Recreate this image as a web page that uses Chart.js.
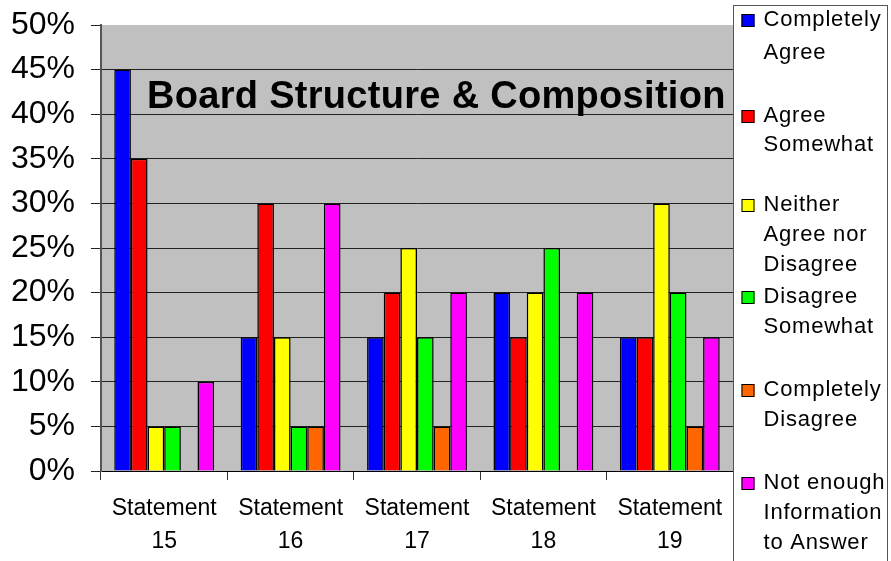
<!DOCTYPE html>
<html>
<head>
<meta charset="utf-8">
<script src="https://cdn.jsdelivr.net/npm/chart.js@4"></script>
<style>
  html, body { margin: 0; padding: 0; background: #fff; }
  #wrap { position: relative; width: 891px; height: 561px; }
</style>
</head>
<body>
<div id="wrap"><canvas id="c" width="891" height="561"></canvas></div>
<script>
const categories = [["Statement", "15"], ["Statement", "16"], ["Statement", "17"], ["Statement", "18"], ["Statement", "19"]];
const seriesNames = ["Completely Agree", "Agree Somewhat", "Neither Agree nor Disagree", "Disagree Somewhat", "Completely Disagree", "Not enough Information to Answer"];
const legendLines = [["Completely", "Agree"], ["Agree", "Somewhat"], ["Neither", "Agree nor", "Disagree"], ["Disagree", "Somewhat"], ["Completely", "Disagree"], ["Not enough", "Information", "to Answer"]];
const seriesColors = ["#0000FF", "#FF0000", "#FFFF00", "#00FF00", "#FF6600", "#FF00FF"];
const completelyAgree    = [45, 15, 15, 20, 15];
const agreeSomewhat      = [35, 30, 20, 15, 15];
const neither            = [5, 15, 25, 20, 30];
const disagreeSomewhat   = [5, 5, 15, 25, 20];
const completelyDisagree = [0, 5, 5, 0, 5];
const notEnoughInfo      = [10, 30, 20, 20, 15];
const seriesValues = [completelyAgree, agreeSomewhat, neither, disagreeSomewhat, completelyDisagree, notEnoughInfo];
const yTicks = [0, 5, 10, 15, 20, 25, 30, 35, 40, 45, 50];
const chartTitle = "Board Structure & Composition";

const FONT = "'Liberation Sans', Arial, sans-serif";

const bgPlugin = {
  id: 'bg',
  beforeDraw(chart) {
    const a = chart.chartArea, ctx = chart.ctx;
    ctx.save();
    ctx.fillStyle = '#C0C0C0';
    ctx.fillRect(a.left, a.top, a.right - a.left, a.bottom - a.top);
    ctx.restore();
  },
  afterDraw(chart) {
    const a = chart.chartArea, ctx = chart.ctx;
    ctx.save();
    // title inside plot
    ctx.font = "bold 38px " + FONT;
    ctx.letterSpacing = '0.3px';
    ctx.fillStyle = '#000';
    ctx.textBaseline = 'alphabetic';
    ctx.textAlign = 'left';
    ctx.fillText(chartTitle, a.left + 46, a.top + 83);
    // legend box
    const lx = a.right + 0.5, ly = 5.5;
    ctx.fillStyle = '#fff';
    ctx.fillRect(lx, ly, 154, 570);
    ctx.strokeStyle = '#555';
    ctx.lineWidth = 1;
    ctx.strokeRect(lx, ly, 154, 570);
    const firstY = [20, 116, 205, 297, 390, 483];
    const spacing = [33, 29, 30, 30, 30, 30];
    ctx.font = "22px " + FONT;
    ctx.letterSpacing = '0.8px';
    ctx.textBaseline = 'middle';
    legendLines.forEach((lines, i) => {
      ctx.fillStyle = seriesColors[i];
      ctx.fillRect(lx + 8, firstY[i] - 6, 13, 13);
      ctx.strokeStyle = '#000';
      ctx.strokeRect(lx + 8.5, firstY[i] - 5.5, 12, 12);
      ctx.fillStyle = '#000';
      lines.forEach((t, j) => ctx.fillText(t, lx + 30, firstY[i] + j * spacing[i]));
    });
    ctx.restore();
  }
};

new Chart(document.getElementById('c'), {
  type: 'bar',
  data: {
    labels: categories,
    datasets: seriesNames.map((n, i) => ({
      label: n,
      data: seriesValues[i],
      backgroundColor: seriesColors[i],
      borderColor: '#000',
      borderWidth: 1.5,
      borderSkipped: 'bottom'
    }))
  },
  options: {
    responsive: false,
    animation: false,
    layout: { padding: { top: 25, right: 158, left: 0, bottom: 0 } },
    plugins: { legend: { display: false }, title: { display: false }, tooltip: { enabled: false } },
    datasets: { bar: { categoryPercentage: 0.79, barPercentage: 1.0 } },
    scales: {
      x: {
        offset: true,
        grid: { display: true, drawOnChartArea: false, offset: true, tickLength: 9, color: '#333' },
        border: { display: true, color: '#000', width: 1 },
        ticks: { font: { family: FONT, size: 23, lineHeight: 1.4 }, color: '#000', padding: 13, maxRotation: 0 },
        afterFit(s) { s.height = 90; }
      },
      y: {
        min: 0, max: 50,
        afterBuildTicks(s) { s.ticks = yTicks.map(v => ({ value: v })); },
        grid: { color: (c) => c.tick && c.tick.value === 50 ? 'rgba(0,0,0,0)' : '#222', tickLength: 10, drawTicks: true, tickColor: '#222' },
        border: { display: true, color: '#555', width: 2 },
        ticks: { font: { family: FONT, size: 32 }, color: '#000', padding: 16, callback: (v) => v + '%' },
        afterFit(s) { s.width = 101; s.paddingTop = 0; s.paddingBottom = 0; }
      }
    }
  },
  plugins: [bgPlugin]
});
</script>
</body>
</html>
